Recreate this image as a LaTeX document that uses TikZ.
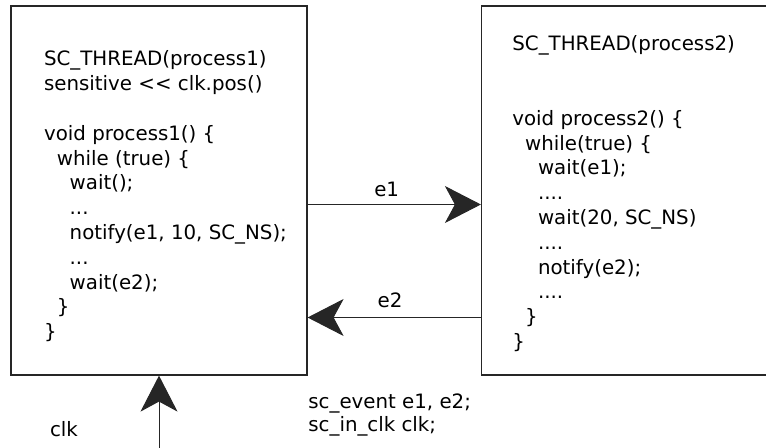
\documentclass[tikz,border=0pt]{standalone}
\usepackage{fontspec}
\newfontfamily\codefont{DejaVu Sans}
\usetikzlibrary{arrows.meta}
\begin{document}
\begin{tikzpicture}[x=0.5pt,y=-0.5pt,
  box/.style={draw=black!85, line width=0.6pt, rectangle, inner sep=0pt},
  code/.style={font=\codefont\fontsize{9.9}{12.4}\selectfont, inner sep=0pt, anchor=base west},
  link/.style={draw=black!85, line width=0.5pt, -{Stealth[length=18pt,width=18.5pt,inset=5pt]}},
]
\useasboundingbox (0,0) rectangle (766,448);

% the two thread boxes (the second one runs off the right edge)
\node[box, minimum width=148pt, minimum height=184.5pt] (thread1) at (159,190.5) {};
\node[box, minimum width=143.25pt, minimum height=184.5pt] (thread2) at (624.75,190.5) {};

% body of process1: row / indent level / text
\foreach \row/\ind/\txt in {
  0/0/{SC\_THREAD(process1)},
  1/0/{sensitive << clk.pos()},
  3/0/{void process1() \{},
  4/1/{while (true) \{},
  5/2/{wait();},
  6/2/{...},
  7/2/{notify(e1, 10, SC\_NS);},
  8/2/{...},
  9/2/{wait(e2);},
  10/1/{\}},
  11/0/{\}}}
  \node[code] (pa\row) at ({43.7+12.8*\ind},{66+24.8*\row}) {\txt};

% body of process2
\foreach \row/\ind/\txt in {
  0/0/{SC\_THREAD(process2)},
  3/0/{void process2() \{},
  4/1/{while(true) \{},
  5/2/{wait(e1);},
  6/2/{....},
  7/2/{wait(20, SC\_NS)},
  8/2/{....},
  9/2/{notify(e2);},
  10/2/{....},
  11/1/{\}},
  12/0/{\}}}
  \node[code] (pb\row) at ({512+12.8*\ind},{51+24.8*\row}) {\txt};

% event connections
\coordinate (e1y) at (0,204.5);
\coordinate (e2y) at (0,317.5);
\draw[link] (thread1.east |- e1y) -- (thread2.west |- e1y);
\draw[link] (thread2.west |- e2y) -- (thread1.east |- e2y);
\node[code, anchor=base] (e1label) at (386.7,196.7) {e1};
\node[code, anchor=base] (e2label) at (390,307.7) {e2};

% clock input
\coordinate (clkin) at (159,452);
\draw[link] (clkin) -- (thread1.south);
\node[code] (clklabel) at (49.7,437) {clk};

% declarations
\node[code] (decl1) at (308,409) {sc\_event e1, e2;};
\node[code] (decl2) at (308,431.7) {sc\_in\_clk clk;};
\end{tikzpicture}
\end{document}
